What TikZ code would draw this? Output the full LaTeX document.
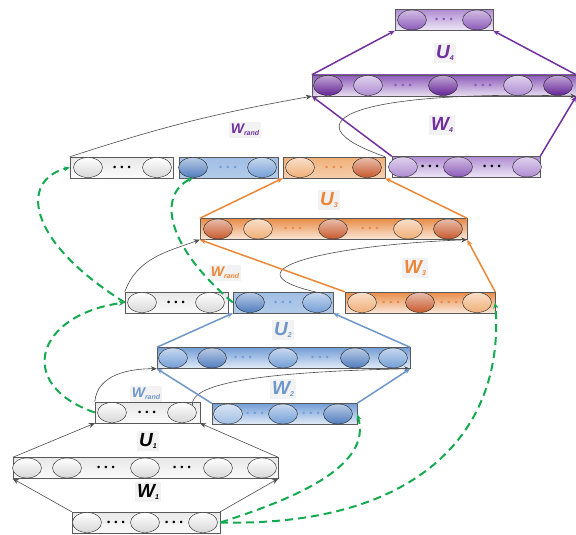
\documentclass[tikz,border=0pt]{standalone}
\usepackage{fontspec}
\newfontfamily\labelfont{Liberation Sans}
\usetikzlibrary{shapes.geometric, arrows.meta}

\definecolor{plain}{RGB}{215,215,215}
\definecolor{bluelight}{RGB}{160,190,228}
\definecolor{bluemid}{RGB}{115,158,215}
\definecolor{bluedark}{RGB}{80,125,190}
\definecolor{blueline}{RGB}{110,150,200}
\definecolor{orangelight}{RGB}{240,175,120}
\definecolor{orangemid}{RGB}{232,140,70}
\definecolor{orangedark}{RGB}{200,90,45}
\definecolor{orangeline}{RGB}{235,135,55}
\definecolor{purplelight}{RGB}{175,140,210}
\definecolor{purplemid}{RGB}{140,90,185}
\definecolor{purpledark}{RGB}{100,35,150}
\definecolor{purpleline}{RGB}{112,48,160}
\definecolor{dashgreen}{RGB}{20,170,80}

\newcommand{\wlab}[2]{#1\raisebox{-2pt}{\fontsize{7}{7}\selectfont #2}}

\tikzset{
	layerbox/.style = {draw = black!65, inner sep = 0, minimum height = 21, top color = #1, bottom color = white!80!#1},
	neuron/.style = {ellipse, draw = black!85, inner sep = 0, minimum width = 29, minimum height = 20, top color = white!60!#1, bottom color = #1},
	plain neuron/.style = {neuron = plain, top color = white, bottom color = plain},
	dots/.style = {inner sep = 0, text = #1, font = \fontsize{9}{9}\selectfont},
	wire/.style = {->, black!70, line width = 0.6pt},
	feed/.style = {->, #1, line width = 1.5pt},
	reuse/.style = {->, dashgreen, line width = 2pt, dash pattern = on 8pt off 5pt},
	weight/.style = {text = #1, fill = black!5, inner sep = 2pt, font = \labelfont\bfseries\itshape\fontsize{19}{19}\selectfont},
	small weight/.style = {weight = #1, font = \labelfont\bfseries\itshape\fontsize{14}{14}\selectfont}
}

\begin{document}
\begin{tikzpicture}[x = 1pt, y = -1pt, > = {Stealth[length = 6pt, width = 5pt]}]

\useasboundingbox (0, 0) rectangle (576, 535);

% Weight labels

\node[weight = black] (w1) at (148, 492) {\wlab{W}{1}};
\node[weight = black] (u1) at (148, 441) {\wlab{U}{1}};
\node[small weight = blueline] (r1) at (146, 394) {\wlab{W}{rand}};
\node[weight = blueline] (w2) at (283, 389) {\wlab{W}{2}};
\node[weight = blueline] (u2) at (283, 330) {\wlab{U}{2}};
\node[small weight = orangeline] (r2) at (225, 273) {\wlab{W}{rand}};
\node[weight = orangeline] (w3) at (415, 268) {\wlab{W}{3}};
\node[weight = orangeline] (u3) at (329, 200) {\wlab{U}{3}};
\node[small weight = purpleline] (r3) at (245, 130) {\wlab{W}{rand}};
\node[weight = purpleline] (w4) at (442, 125) {\wlab{W}{4}};
\node[weight = purpleline] (u4) at (445, 53) {\wlab{U}{4}};

% Level 1 (input, hidden, random)

\node[layerbox = gray!18, minimum width = 148] (in1) at (146, 522.5) {};
\foreach \x [count = \i] in {87, 145, 203}
	\node[plain neuron] (in1-\i) at (\x, 522.5) {};
\foreach \x [count = \i] in {116, 174}
	\node[dots = black] (in1-d\i) at (\x, 522.5) {\textbullet\textbullet\textbullet};

\node[layerbox = gray!18, minimum width = 265] (hid1) at (145.5, 468) {};
\foreach \x [count = \i] in {27, 67, 145, 218, 262}
	\node[plain neuron] (hid1-\i) at (\x, 468) {};
\foreach \x [count = \i] in {106, 182}
	\node[dots = black] (hid1-d\i) at (\x, 468) {\textbullet\textbullet\textbullet};

\node[layerbox = gray!18, minimum width = 105] (rand1) at (147.5, 412.5) {};
\foreach \x [count = \i] in {112, 182}
	\node[plain neuron] (rand1-\i) at (\x, 412.5) {};
\node[dots = black] (rand1-d1) at (147, 412.5) {\textbullet\textbullet\textbullet};

% Level 2 (blue)

\node[layerbox = bluemid, minimum width = 145] (in2) at (284.5, 414) {};
\foreach \x/\c [count = \i] in {228/bluelight, 283/bluemid, 338/bluedark}
	\node[neuron = \c] (in2-\i) at (\x, 414) {};
\foreach \x [count = \i] in {255, 311}
	\node[dots = bluemid] (in2-d\i) at (\x, 414) {\textbullet\textbullet\textbullet};

\node[layerbox = bluemid, minimum width = 253] (hid2) at (283.5, 358) {};
\foreach \x/\c [count = \i] in {173/bluemid, 212/bluedark, 283/bluemid, 355/bluedark, 393/bluemid}
	\node[neuron = \c] (hid2-\i) at (\x, 358) {};
\foreach \x [count = \i] in {243, 320}
	\node[dots = bluemid] (hid2-d\i) at (\x, 358) {\textbullet\textbullet\textbullet};

\node[layerbox = gray!18, minimum width = 103] (rand2) at (176.5, 302.5) {};
\foreach \x [count = \i] in {142, 210}
	\node[plain neuron] (rand2-\i) at (\x, 302.5) {};
\node[dots = black] (rand2-d1) at (176, 302.5) {\textbullet\textbullet\textbullet};

\node[layerbox = bluelight, bottom color = bluelight!80, minimum width = 100] (out2) at (283, 302.5) {};
\foreach \x/\c [count = \i] in {250/bluedark, 317/bluemid}
	\node[neuron = \c] (out2-\i) at (\x, 302.5) {};
\node[dots = bluemid] (out2-d1) at (283, 302.5) {\textbullet\textbullet\textbullet};

% Level 3 (orange)

\node[layerbox = orangemid, minimum width = 150] (in3) at (420, 302.5) {};
\foreach \x/\c [count = \i] in {362/orangelight, 420/orangedark, 477/orangelight}
	\node[neuron = \c] (in3-\i) at (\x, 302.5) {};
\foreach \x [count = \i] in {391, 449}
	\node[dots = orangemid] (in3-d\i) at (\x, 302.5) {\textbullet\textbullet\textbullet};

\node[layerbox = orangemid, minimum width = 267] (hid3) at (333.5, 229) {};
\foreach \x/\c [count = \i] in {218/orangedark, 258/orangelight, 333/orangedark, 408/orangelight, 448/orangedark}
	\node[neuron = \c] (hid3-\i) at (\x, 229) {};
\foreach \x [count = \i] in {293, 370}
	\node[dots = orangemid] (hid3-d\i) at (\x, 229) {\textbullet\textbullet\textbullet};

\node[layerbox = gray!18, minimum width = 103] (rand3) at (121.5, 167.5) {};
\foreach \x [count = \i] in {88, 157}
	\node[plain neuron] (rand3-\i) at (\x, 167.5) {};
\node[dots = black] (rand3-d1) at (122, 167.5) {\textbullet\textbullet\textbullet};

\node[layerbox = bluelight, bottom color = bluelight!80, minimum width = 99] (blue3) at (228.5, 167.5) {};
\foreach \x/\c [count = \i] in {193/bluedark, 262/bluemid}
	\node[neuron = \c] (blue3-\i) at (\x, 167.5) {};
\node[dots = bluemid] (blue3-d1) at (228, 167.5) {\textbullet\textbullet\textbullet};

\node[layerbox = orangelight, bottom color = orangelight!60, minimum width = 102] (out3) at (334, 167.5) {};
\foreach \x/\c [count = \i] in {300/orangelight, 367/orangedark}
	\node[neuron = \c] (out3-\i) at (\x, 167.5) {};
\node[dots = orangemid] (out3-d1) at (334, 167.5) {\textbullet\textbullet\textbullet};

% Level 4 (purple)

\node[layerbox = purplelight, minimum width = 148] (in4) at (466, 167) {};
\foreach \x/\c [count = \i] in {403/purplelight, 458/purplemid, 527/purplelight}
	\node[neuron = \c] (in4-\i) at (\x, 167) {};
\foreach \x [count = \i] in {430, 492}
	\node[dots = black] (in4-d\i) at (\x, 167) {\textbullet\textbullet\textbullet};

\node[layerbox = purplemid, minimum width = 264] (hid4) at (444, 85.5) {};
\foreach \x/\c [count = \i] in {328/purpledark, 368/purplelight, 443/purpledark, 518/purplelight, 558/purpledark}
	\node[neuron = \c] (hid4-\i) at (\x, 85.5) {};
\foreach \x [count = \i] in {403, 483}
	\node[dots = purplemid] (hid4-d\i) at (\x, 85.5) {\textbullet\textbullet\textbullet};

\node[layerbox = purplelight, minimum width = 98] (out4) at (444, 20) {};
\foreach \x/\c [count = \i] in {412/purplemid, 477/purplemid}
	\node[neuron = \c] (out4-\i) at (\x, 20) {};
\node[dots = purplemid] (out4-d1) at (444, 20) {\textbullet\textbullet\textbullet};

% Connections, level 1

\draw[wire] (in1.north west) -- (hid1.south west);
\draw[wire] (in1.north east) -- (hid1.south east);
\draw[wire] (hid1.north west) -- (rand1.south west);
\draw[wire] (hid1.north east) -- (rand1.south east);

% Connections, level 2

\draw[wire] (rand1.north west) to[out = 85, in = 180] (hid2.south west);
\draw[wire] (rand1-2.north east) .. controls (190, 385) and (250, 372) .. (hid2.south east);
\draw[feed = blueline] (in2.north west) -- (hid2.south west);
\draw[feed = blueline] (in2.north east) -- (hid2.south east);
\draw[feed = blueline] (hid2.north west) -- (out2.south west);
\draw[feed = blueline] (hid2.north east) -- (out2.south east);

% Connections, level 3

\draw[wire] (rand2.north west) to[out = 70, in = 200] (hid3.south west);
\draw[wire] (out2-2.north) .. controls (220, 270) and (330, 245) .. (hid3.south east);
\draw[feed = orangeline] (in3.north west) -- (hid3.south west);
\draw[feed = orangeline] (in3.north east) -- (hid3.south east);
\draw[feed = orangeline] (hid3.north west) -- (out3.south west);
\draw[feed = orangeline] (hid3.north east) -- (out3.south east);

% Connections, level 4

\draw[wire] (rand3.north west) to[bend left = 4] (hid4.south west);
\draw[wire] (out3.north east) .. controls (280, 120) and (360, 90) .. (hid4.south east);
\draw[feed = purpleline] (in4.north west) -- (hid4.south west);
\draw[feed = purpleline] (in4.north east) -- (hid4.south east);
\draw[feed = purpleline] (hid4.north west) -- (out4.south west);
\draw[feed = purpleline] (hid4.north east) -- (out4.south east);

% Reused layers (dashed)

\draw[reuse] (in1.east) .. controls (300, 497) and (372, 465) .. (in2.east);
\draw[reuse] (in1.east) .. controls (420, 527) and (505, 430) .. (in3.east);
\draw[reuse] (rand1.west) .. controls (15, 385) and (35, 315) .. (rand2.west);
\draw[reuse] (rand2.west) .. controls (25, 240) and (20, 180) .. (rand3.west);
\draw[reuse] (out2.west) .. controls (165, 245) and (158, 195) .. (blue3-1.south);

\end{tikzpicture}
\end{document}
